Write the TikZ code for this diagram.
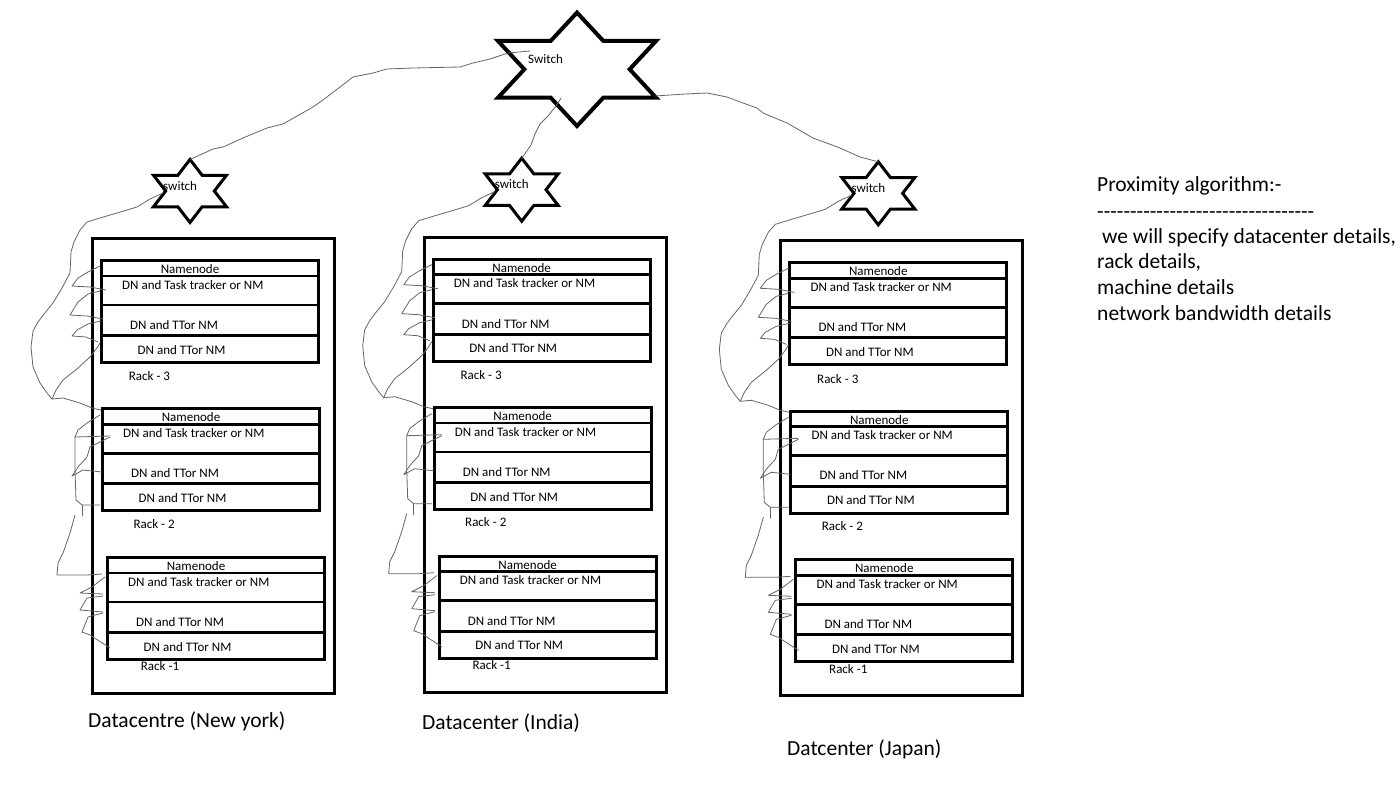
\documentclass[tikz,border=0pt]{standalone}
\usepackage{fontspec}
\setmainfont{Carlito}
\usetikzlibrary{calc}
\tikzset{
  dcbox/.style={draw=black, line width=3pt, minimum width=242pt, minimum height=455pt, inner sep=0pt, anchor=north west},
  rackbox/.style={draw=black, line width=3pt, minimum width=217pt, minimum height=102pt, inner sep=0pt, anchor=north west},
  rackline/.style={draw=black, line width=2.8pt},
  starline/.style={draw=black, line join=miter},
  wire/.style={draw=black!60, line width=0.8pt, line join=round, line cap=round},
  small/.style={inner sep=0pt, font=\fontsize{13}{15}\selectfont, anchor=base west},
  big/.style={inner sep=0pt, font=\fontsize{21.5}{26}\selectfont, anchor=base west},
}
% hexagram: name, x, y, rx, R
\newcommand\hexstar[5]{%
  \coordinate (#1) at (#2,#3);
  \coordinate (#1-top) at ($(#1)+(0,-#5)$);
  \draw[starline] ($(#1)+(0,-#5)$) -- ($(#1)+(#4/3,-#5/2)$) -- ($(#1)+(#4,-#5/2)$)
    -- ($(#1)+(2*#4/3,0)$) -- ($(#1)+(#4,#5/2)$) -- ($(#1)+(#4/3,#5/2)$)
    -- ($(#1)+(0,#5)$) -- ($(#1)+(-#4/3,#5/2)$) -- ($(#1)+(-#4,#5/2)$)
    -- ($(#1)+(-2*#4/3,0)$) -- ($(#1)+(-#4,-#5/2)$) -- ($(#1)+(-#4/3,-#5/2)$) -- cycle;
}
% rack: name, L, T, label, label dx, label dy
\newcommand\rackunit[6]{%
  \node[rackbox] (#1) at (#2,#3) {};
  \draw[rackline] (#2,#3+17) -- (#2+217,#3+17);
  \draw[rackline] (#2,#3+46) -- (#2+217,#3+46);
  \draw[rackline] (#2,#3+76.5) -- (#2+217,#3+76.5);
  \node[inner sep=0pt, font=\fontsize{13}{15}\selectfont, anchor=base] (#1-nn) at (#2+90,#3+14.6) {Namenode};
  \node[small] (#1-a) at (#2+22,#3+30) {DN and Task tracker or NM};
  \node[small] (#1-b) at (#2+30,#3+70.3) {DN and TTor NM};
  \node[small] (#1-c) at (#2+37.5,#3+95) {DN and TTor NM};
  \node[small] (#1-lab) at (#2+#5,#3+#6+4.2) {#4};
}
% datacenter drawn in New York coordinates, shifted
\newcommand\dcenter[3]{%
  \begin{scope}[shift={(#2,#3)}]
    \node[dcbox] (#1) at (91,237) {};
    \begin{scope}[starline/.append style={line width=3pt}]
      \hexstar{#1-sw}{190}{191}{36.5}{31.5}
    \end{scope}
    \node[small] (#1-swt) at (163,190) {switch};
    \rackunit{#1-r3}{100}{259}{Rack - 3}{28.7}{117.7}
    \rackunit{#1-r2}{101}{407.3}{Rack - 2}{32.3}{116.7}
    \rackunit{#1-r1}{106}{556}{Rack -1}{34.7}{110.7}
    \coordinate (#1-in) at (163,193);
    \draw[wire] (#1-in) -- (150,199) -- (137,207) -- (117,213) -- (100,218) -- (87,222) -- (80,230)
      -- (74,242) -- (71,252) -- (70,273) -- (62,288) -- (53,303) -- (44,314) -- (38,322) -- (33,331)
      -- (31,347) -- (33,367) -- (40,383) -- (47,393) -- (52,399) -- (63,398) -- (80,403) -- (92,408) -- (101,410);
    \draw[wire] (52,399) -- (56,390) -- (63,380) -- (78,368) -- (90,357) -- (97,348) -- (100,343);
    \draw[wire] (100,266) -- (88,272) -- (78,278) -- (72,286) -- (90,287) -- (106,290);
    \draw[wire] (100,291) -- (88,294) -- (78,302) -- (70,315) -- (87,316) -- (103,319);
    \draw[wire] (101,321) -- (88,324) -- (77,330) -- (72,336) -- (86,337) -- (98,342);
    \draw[wire] (100,415) -- (87,423) -- (78,430) -- (75,437) -- (110,436);
    \draw[wire] (110,437) -- (100,442) -- (90,447) -- (87,457) -- (78,467) -- (72,476) -- (83,470) -- (102,472);
    \draw[wire] (75,437) -- (75,470) -- (76,500) -- (82,505) -- (100,505);
    \draw[wire] (82,505) -- (82,516);
    \draw[wire] (75,515) -- (70,533) -- (63,553) -- (58,563) -- (57,575) -- (87,575) -- (102,574);
    \draw[wire] (105,577) -- (92,587) -- (80,593) -- (103,594);
    \draw[wire] (103,596) -- (87,598) -- (80,610) -- (103,612);
    \draw[wire] (103,613) -- (88,617) -- (82,632) -- (90,635) -- (110,648);
  \end{scope}
}
\begin{document}
\begin{tikzpicture}[x=1pt,y=-1pt]
  \useasboundingbox[fill=white] (0,0) rectangle (1400,803);
  % main switch
  \begin{scope}[starline/.append style={line width=4pt}]
    \hexstar{main}{577}{69.3}{79}{56.7}
  \end{scope}
  \node[small] (maint) at (528,63.5) {Switch};
  % datacenters
  \dcenter{ny}{0}{0}
  \dcenter{in}{331.7}{-1.3}
  \dcenter{jp}{688.3}{2.3}
  % uplinks
  \coordinate (upA) at (530,51);
  \coordinate (upB) at (561,98);
  \coordinate (upC) at (655,96);
  \draw[wire] (upA) -- (508,53) -- (490,59) -- (473,63) -- (460,67) -- (413,68) -- (387,69) -- (373,73)
    -- (353,77) -- (340,87) -- (323,100) -- (313,107) -- (283,124) -- (267,128) -- (243,138) -- (223,147)
    -- (213,149) -- (ny-sw-top);
  \draw[wire] (upB) -- (556,106) -- (548,116) -- (540,124) -- (535,134) -- (531,145) -- (in-sw-top);
  \draw[wire] (upC) -- (685,94) -- (707,93) -- (727,97) -- (743,103) -- (757,108) -- (763,113)
    -- (787,123) -- (813,138) -- (840,148) -- (860,157) -- (jp-sw-top);
  % labels
  \node[big] (nyl) at (88,727) {Datacentre (New york)};
  \node[big] (inl) at (422,729) {Datacenter (India)};
  \node[big] (jpl) at (787,755) {Datcenter (Japan)};
  % proximity text
  \node[big] (p1) at (1097,191) {Proximity algorithm:-};
  \node[big] (p2) at (1097,218) {-{}-{}-{}-{}-{}-{}-{}-{}-{}-{}-{}-{}-{}-{}-{}-{}-{}-{}-{}-{}-{}-{}-{}-{}-{}-{}-{}-{}-{}-{}-{}-{}-{}};
  \node[big] (p3) at (1102,243) {we will specify datacenter details,};
  \node[big] (p4) at (1097,268.5) {rack details,};
  \node[big] (p5) at (1097,294) {machine details};
  \node[big] (p6) at (1097,320.5) {network bandwidth details};
\end{tikzpicture}
\end{document}
